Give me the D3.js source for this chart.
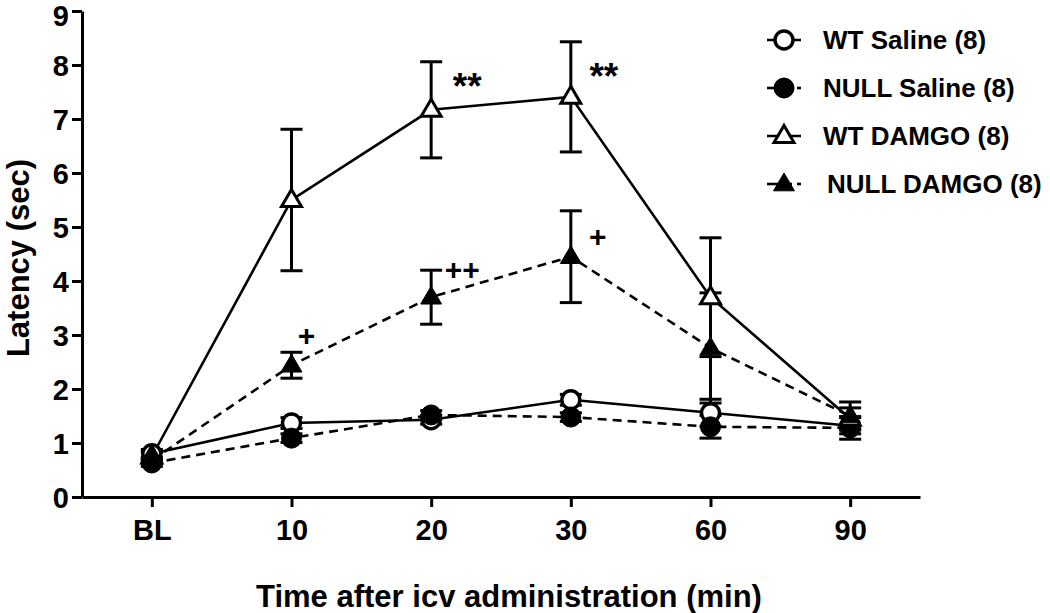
<!DOCTYPE html>
<html><head><meta charset="utf-8">
<script src="https://cdn.jsdelivr.net/npm/d3@7"></script>
<style>body{margin:0;background:#fff}svg{display:block}text{font-family:"Liberation Sans",Arial,sans-serif;font-weight:bold;fill:#000}</style>
</head><body><svg id="c" width="1050" height="613"></svg>
<script>
const categories = ["BL","10","20","30","60","90"];
const yTicks = [0,1,2,3,4,5,6,7,8,9];
const wtSaline = [0.80,1.37,1.43,1.80,1.56,1.32];
const wtSalineErr = [0.08,0.10,0.08,0.10,0.25,0.15];
const nullSaline = [0.63,1.09,1.52,1.48,1.30,1.28];
const nullSalineErr = [0.06,0.08,0.08,0.08,0.21,0.21];
const wtDamgo = [0.75,5.50,7.17,7.41,3.70,1.45];
const wtDamgoErr = [0.08,1.31,0.89,1.02,1.10,0.20];
const nullDamgo = [0.68,2.44,3.70,4.45,2.76,1.50];
const nullDamgoErr = [0.06,0.24,0.50,0.85,1.02,0.26];
const seriesNames = ["WT Saline (8)","NULL Saline (8)","WT DAMGO (8)","NULL DAMGO (8)"];
const annotations = [
  {cat:"20", text:"**", dx:36, dy:-27, size:37},
  {cat:"30", text:"**", dx:33, dy:-24, size:37},
  {cat:"10", text:"+", dx:15, dy:-32, size:30},
  {cat:"20", text:"++", dx:31, dy:-30, size:30},
  {cat:"30", text:"+", dx:27, dy:-22, size:30}
];

const series = [
  {name:seriesNames[0], vals:wtSaline, err:wtSalineErr, shape:"circle", fill:"#fff", dash:null},
  {name:seriesNames[1], vals:nullSaline, err:nullSalineErr, shape:"circle", fill:"#000", dash:"9,6"},
  {name:seriesNames[2], vals:wtDamgo, err:wtDamgoErr, shape:"triangle", fill:"#fff", dash:null},
  {name:seriesNames[3], vals:nullDamgo, err:nullDamgoErr, shape:"triangle", fill:"#000", dash:"9,6"}
];

const svg = d3.select("#c");
const x = d3.scalePoint().domain(categories).range([82,920]).padding(0.5);
const y = d3.scaleLinear().domain([0,9]).range([497,11]);

const yAxis = svg.append("g").attr("transform","translate(82,0)")
  .call(d3.axisLeft(y).tickValues(yTicks).tickSize(10).tickSizeOuter(0).tickPadding(3));
const xAxis = svg.append("g").attr("transform","translate(0,497)")
  .call(d3.axisBottom(x).tickSize(10).tickSizeOuter(0).tickPadding(12));
[yAxis,xAxis].forEach(g=>{
  g.select(".domain").attr("stroke","#000").attr("stroke-width",3);
  g.selectAll(".tick line").attr("stroke","#000").attr("stroke-width",3);
  g.selectAll("text").style("font-size","29px").style("font-weight","bold").attr("fill","#000")
   .style("font-family","'Liberation Sans',Arial,sans-serif");
});
yAxis.selectAll("text").attr("dy",d=>d===9?"0.5em":"0.36em");
xAxis.selectAll("text").attr("y",33).attr("dy","0.36em");

svg.append("text").attr("transform","translate(29,258) rotate(-90)").attr("text-anchor","middle")
  .style("font-size","31px").text("Latency (sec)");
svg.append("text").attr("x",509).attr("y",607).attr("text-anchor","middle")
  .style("font-size","31px").text("Time after icv administration (min)");

const line = d3.line().x((d,i)=>x(categories[i])).y(d=>y(d));
const g = svg.append("g");
series.forEach(s=>{
  g.append("path").attr("d",line(s.vals)).attr("fill","none").attr("stroke","#000")
   .attr("stroke-width",2.6).attr("stroke-dasharray",s.dash);
});
series.forEach(s=>{
  s.vals.forEach((v,i)=>{
    const cx = x(categories[i]), e = s.err[i];
    const eg = g.append("g").attr("stroke","#000").attr("stroke-width",3);
    eg.append("line").attr("x1",cx).attr("x2",cx).attr("y1",y(v+e)).attr("y2",y(v-e));
    [v+e,v-e].forEach(t=>eg.append("line").attr("x1",cx-11).attr("x2",cx+11).attr("y1",y(t)).attr("y2",y(t)));
  });
});
function marker(sel, shape, cx, cy, fill){
  if(shape==="circle"){
    sel.append("circle").attr("cx",cx).attr("cy",cy).attr("r",fill==="#000"?10:9)
      .attr("fill",fill).attr("stroke","#000").attr("stroke-width",fill==="#000"?1:3.4);
  } else {
    const r = fill==="#000"?11:10.5;
    const pts = [[cx,cy-r],[cx+r*0.95,cy+r*0.62],[cx-r*0.95,cy+r*0.62]];
    sel.append("path").attr("d","M"+pts.map(p=>p.join(",")).join("L")+"Z")
      .attr("fill",fill).attr("stroke","#000").attr("stroke-width",fill==="#000"?1:3).attr("stroke-linejoin","miter");
  }
}
series.forEach(s=>{
  s.vals.forEach((v,i)=>marker(g, s.shape, x(categories[i]), y(v), s.fill));
});

annotations.forEach(a=>{
  const i = categories.indexOf(a.cat);
  const isStar = a.text.indexOf("*")>=0;
  const s = isStar ? wtDamgo : nullDamgo;
  const e = isStar ? wtDamgoErr : nullDamgoErr;
  svg.append("text").attr("x",x(a.cat)+a.dx).attr("y",y(s[i]+e[i]) + a.dy + (y(s[i]) - y(s[i]+e[i])) + (isStar?4:2))
    .attr("text-anchor","middle").attr("dominant-baseline","central").style("font-size",a.size+"px").text(a.text);
});

const leg = svg.append("g");
const legY = [40,88,136,184];
series.forEach((s,i)=>{
  const ly = legY[i];
  leg.append("line").attr("x1",767).attr("x2",s.dash?792:801).attr("y1",ly).attr("y2",ly)
    .attr("stroke","#000").attr("stroke-width",2.6);
  if(s.dash){
    leg.append("line").attr("x1",797).attr("x2",801).attr("y1",ly).attr("y2",ly)
      .attr("stroke","#000").attr("stroke-width",2.6);
  }
  marker(leg, s.shape, 784, ly, s.fill);
  leg.append("text").attr("x", i===3?827:823).attr("y",ly).attr("dy","0.36em")
    .style("font-size","26px").text(s.name);
});
</script></body></html>
